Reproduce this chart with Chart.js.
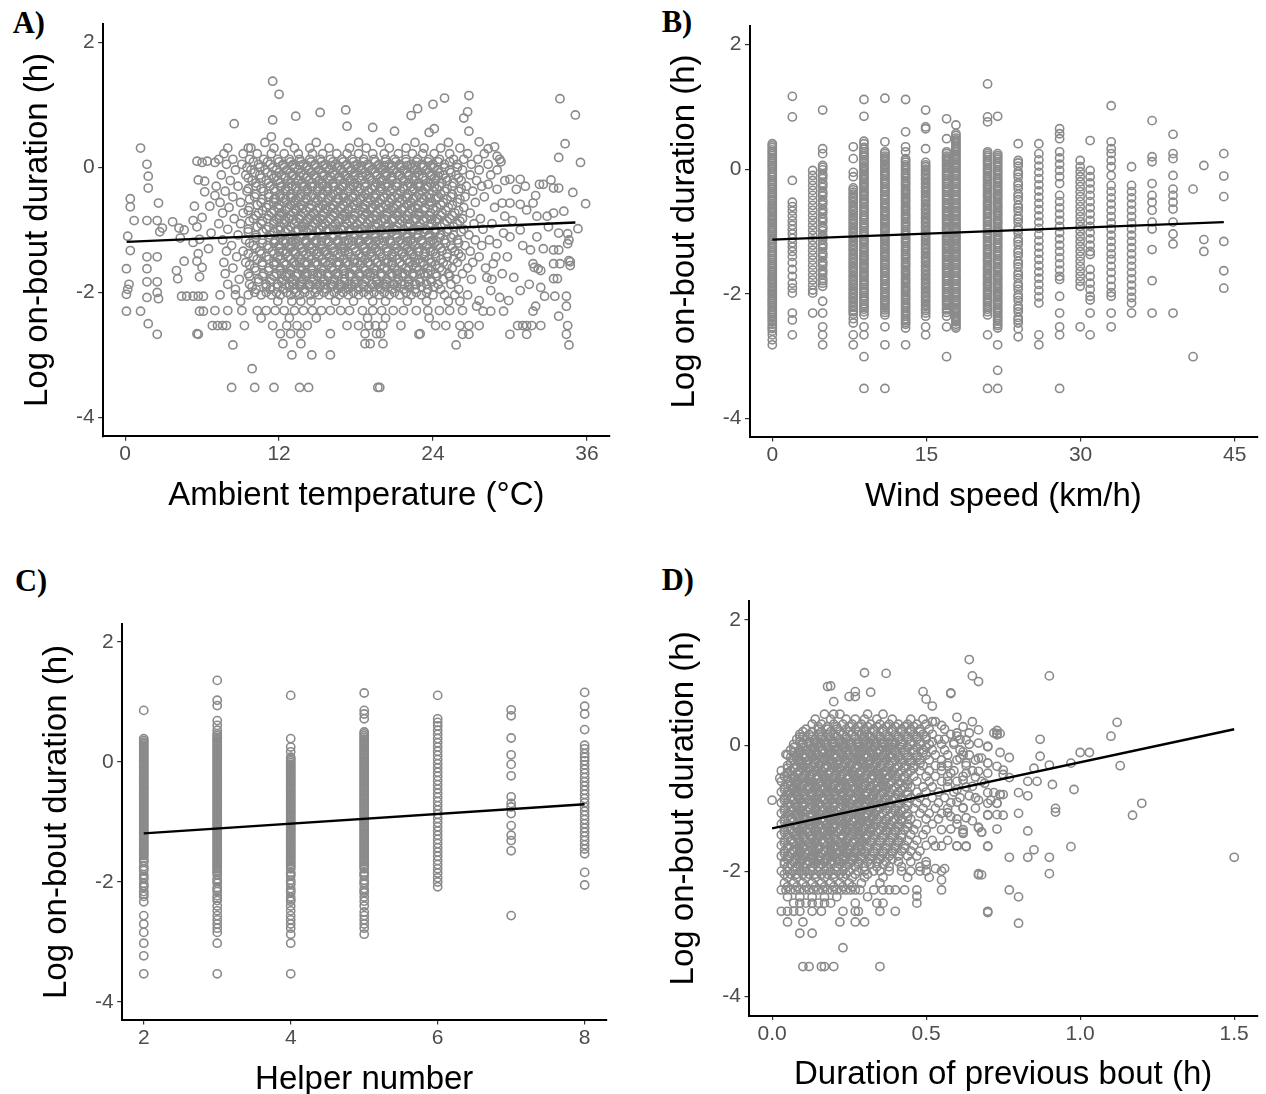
<!DOCTYPE html>
<html><head><meta charset="utf-8">
<script src="https://cdn.jsdelivr.net/npm/chart.js@4.4.1/dist/chart.umd.min.js"></script>
<style>
html,body{margin:0;padding:0;background:#fff;}
body{width:1266px;height:1094px;position:relative;overflow:hidden;}
canvas{position:absolute;}
.lab{position:absolute;font-family:"Liberation Serif","Times New Roman",serif;font-weight:bold;font-size:30.5px;line-height:1;color:#000;white-space:nowrap;}
</style></head><body>
<div class="lab" style="left:12.7px;top:8.3px">A)</div>
<div class="lab" style="left:661.7px;top:6.6px">B)</div>
<div class="lab" style="left:15px;top:566px">C)</div>
<div class="lab" style="left:661.7px;top:565.2px">D)</div>
<canvas id="cA"></canvas><canvas id="cB"></canvas><canvas id="cC"></canvas><canvas id="cD"></canvas>
<script>
// ---------- tick labels ----------
const logTicks = [-4, -2, 0, 2];
const tempTicks = [0, 12, 24, 36];
const windTicks = [0, 15, 30, 45];
const helperTicks = [2, 4, 6, 8];
const prevTicks = [0, 0.5, 1, 1.5];

// ---------- fitted lines ----------
const tempFit = [[0.12, -1.19], [35.1, -0.88]];
const windFit = [[0, -1.13], [43.94, -0.85]];
const helperFit = [[2, -1.19], [8, -0.705]];
const prevFit = [[0, -1.32], [1.5, 0.26]];

// ---------- A: ambient temperature ----------
const tempPairs = [
[11.5,1.38],[12.0,1.17],[8.5,0.70],[11.5,0.76],[13.3,0.82],[15.2,0.88],[11.4,0.49],[9.6,0.31],
[1.2,0.31],[1.7,0.05],[1.8,-0.14],[1.8,-0.33],[2.6,-0.57],[0.4,-0.5],[0.4,-0.63],[0.7,-0.85],[1.7,-0.85],[2.5,-0.85],
[2.9,-0.97],[2.7,-1.03],[0.2,-1.1],[0.4,-1.33],[1.7,-1.43],[1.7,-1.62],[1.7,-1.83],[2.5,-1.43],[2.5,-1.83],[2.5,-2.0],
[2.6,-2.1],[1.7,-2.08],[0.1,-1.62],[0.3,-1.87],[0.2,-1.95],[0.1,-2.03],[0.1,-2.3],[1.2,-2.3],[1.8,-2.5],[2.5,-2.67],
[4.4,-2.06],[4.0,-1.65],[4.1,-1.78],[4.2,-0.97],[4.3,-1.13],[3.7,-0.87],[4.6,-1.0],[4.6,-1.5],[5.4,-0.62],[5.3,-0.85],
[5.6,-0.95],[6.0,-0.8],[5.6,0.1],[6.0,0.08],[6.4,0.1],[5.7,-0.2],[6.2,-0.22],[6.2,-0.39],[7.0,0.08],[7.3,0.13],
[7.0,-0.45],[6.6,-0.62],[5.3,-1.2],[5.8,-1.15],[5.7,-1.38],[5.6,-1.5],[6.0,-1.6],[5.8,-1.75],[6.5,-1.3],[6.7,-1.05],
[4.8,-2.06],[5.3,-2.06],[5.7,-2.06],[6.1,-2.06],[5.8,-2.3],[6.1,-2.3],[5.7,-2.67],[5.6,-2.66],[6.8,-2.53],[7.2,-2.53],
[7.6,-2.53],[7.9,-2.53],[8.4,-2.84],[9.9,-3.22],[8.3,-3.52],[10.1,-3.52],[11.6,-3.52],[13.6,-3.52],[14.3,-3.52],
[19.7,-3.52],[19.85,-3.52],[13.0,-3.0],[14.55,-3.0],[16.0,-3.0],[12.3,-2.82],[13.7,-2.82],[12.1,-2.66],[12.9,-2.66],
[13.7,-2.66],[16.0,-2.66],[18.7,-2.82],[19.1,-2.82],[20.1,-2.82],[18.7,-2.66],[19.6,-2.66],[19.9,-2.66],[23.0,-2.66],
[26.8,1.15],[24.9,1.11],[24.0,1.01],[22.8,0.94],[22.3,0.83],[26.7,0.89],[26.4,0.79],[26.8,0.58],[27.6,0.41],
[33.9,1.1],[35.1,0.84],[34.3,0.38],[33.8,0.16],[35.5,0.08],[35.9,-0.58],[17.2,0.92],[17.3,0.66],[19.3,0.64],[21.0,0.58],
[24.1,0.62],[23.7,0.56],[28.3,0.3],[28.8,0.33],[29.0,0.18],[29.3,0.09],[30.0,-0.19],[30.8,-0.19],[32.3,-0.27],
[32.6,-0.27],[33.4,-0.33],[33.8,-0.33],[35.3,-0.98],[34.5,-1.06],[34.6,-1.16],[34.5,-1.22],[33.8,-1.32],[34.7,-1.51],
[34.7,-1.57],[32.2,-1.62],[31.9,-1.6],[33.4,-1.78],[33.7,-1.78],[31.5,-1.87],[32.4,-1.92],[32.7,-2.06],[33.5,-2.06],
[34.4,-2.06],[34.4,-2.22],[33.8,-2.38],[34.5,-2.53],[34.4,-2.67],[34.6,-2.84],[30.6,-2.53],[31.0,-2.53],[31.3,-2.53],
[31.7,-2.53],[32.4,-2.53],[30.0,-2.67],[31.3,-2.67],[31.8,-2.3],[32.0,-2.22],[29.5,-2.3],[28.5,-2.3],[27.9,-2.3],
[27.4,-2.22],[29.9,-2.13],[27.6,-2.13],[27.6,-2.53],[26.8,-2.53],[26.1,-2.53],[26.3,-2.67],[26.8,-2.67],[25.8,-2.84],
[22.9,-2.67],[28.3,-0.27],[29.0,-0.35],[29.4,-0.57],[30.0,-0.57],[29.6,-0.78],[30.5,-0.35],[30.8,-0.59],[31.3,-0.68],
[31.8,-0.57],[32.1,-0.78],[32.9,-0.78],[33.4,-0.73],[33.0,-0.95],[33.8,-1.05],[33.4,-1.32],[32.1,-1.11],[31.6,-1.32],
[31.8,-1.54],[32.4,-1.65],[33.4,-1.54],[33.9,-1.54],[34.6,-1.49],[30.8,-1.0],[30.0,-1.11],[29.5,-1.05],[29.0,-1.22],
[29.8,-1.43],[28.7,-1.54],[29.4,-1.7],[30.3,-1.76],[30.8,-1.97],[29.2,-2.08],[28.5,-1.97],[28.2,-1.76],
[31.2,-0.3],[32.0,-0.45],[30.2,-0.85],[31.0,-1.25],[32.6,-1.3],[33.2,-0.2],[34.9,-0.4],[34.2,-0.7]
];
const tempRows = [
[0.40,[10.9,12.7,14.9,18.2,19.9,22.6,25.2]],
[0.31,[8.0,9.8,11.6,13.2,14.4,15.9,17.5,18.8,20.6,21.9,23.3,24.6,26.1]],
[0.22,[7.7,9.2,10.3,11.4,12.4,13.5,14.6,15.4,16.5,17.3,18.2,19.3,20.2,21.3,22.4,23.2,24.1,25.3,26.7,28.0]],
[0.13,[8.4,9.7,10.8,11.9,12.8,13.6,14.4,15.2,16.0,16.9,17.7,18.6,19.4,20.3,21.0,21.9,22.8,23.7,24.5,25.6,26.4,27.5,29.2]],
[0.05,[7.9,9.1,10.4,11.3,12.3,13.1,13.9,14.8,15.6,16.4,17.3,18.1,18.9,19.8,20.6,21.4,22.3,23.1,24.0,24.9,25.9,27.0,28.3]],
[-0.04,[8.6,9.8,10.9,11.8,12.6,13.5,14.3,15.1,15.9,16.8,17.6,18.4,19.2,20.0,20.9,21.7,22.6,23.5,24.4,25.3,26.3,27.6,29.0]],
[-0.12,[7.5,9.4,10.5,11.4,12.2,13.0,13.9,14.7,15.5,16.3,17.1,17.9,18.8,19.6,20.4,21.3,22.1,22.9,23.8,24.8,25.8,26.9,28.5]],
[-0.21,[8.2,9.9,11.0,11.9,12.7,13.5,14.3,15.1,15.9,16.7,17.5,18.4,19.2,20.0,20.8,21.7,22.5,23.4,24.2,25.1,26.2,27.4,29.6]],
[-0.30,[7.1,8.8,10.2,11.3,12.2,13.0,13.8,14.6,15.4,16.2,17.0,17.8,18.7,19.5,20.3,21.1,22.0,22.8,23.6,24.5,25.5,26.6,27.8]],
[-0.38,[7.8,9.5,10.8,11.7,12.5,13.4,14.2,15.0,15.8,16.6,17.4,18.2,19.0,19.9,20.7,21.5,22.4,23.2,24.0,24.9,26.0,27.1]],
[-0.47,[8.4,10.1,11.2,12.1,12.9,13.7,14.5,15.3,16.1,17.0,17.8,18.6,19.4,20.2,21.0,21.9,22.7,23.5,24.4,25.4,26.5,28.0]],
[-0.56,[7.4,9.0,10.6,11.6,12.4,13.2,14.0,14.9,15.7,16.5,17.3,18.1,18.9,19.8,20.6,21.4,22.3,23.1,23.9,24.8,25.9,27.3]],
[-0.64,[8.1,9.7,11.0,11.9,12.8,13.6,14.4,15.2,16.0,16.8,17.7,18.5,19.3,20.1,20.9,21.8,22.6,23.4,24.3,25.2,26.4,28.8]],
[-0.73,[7.6,9.2,10.4,11.4,12.2,13.1,13.9,14.7,15.5,16.3,17.1,17.9,18.8,19.6,20.4,21.2,22.1,22.9,23.8,24.7,25.7,26.9]],
[-0.82,[8.5,10.0,11.1,12.0,12.8,13.6,14.4,15.2,16.0,16.9,17.7,18.5,19.3,20.2,21.0,21.8,22.7,23.5,24.3,25.3,26.3,27.7]],
[-0.90,[7.3,9.0,10.6,11.6,12.4,13.2,14.0,14.8,15.6,16.4,17.3,18.1,18.9,19.7,20.5,21.4,22.2,23.0,23.9,24.9,25.9,27.2,28.6]],
[-0.99,[8.0,9.6,11.0,11.9,12.7,13.5,14.3,15.1,15.9,16.8,17.6,18.4,19.2,20.0,20.9,21.7,22.5,23.4,24.2,25.2,26.4,27.9]],
[-1.08,[8.8,10.2,11.3,12.2,13.0,13.8,14.6,15.4,16.2,17.0,17.9,18.7,19.5,20.3,21.2,22.0,22.8,23.7,24.6,25.6,26.8]],
[-1.16,[7.6,9.4,10.7,11.7,12.5,13.3,14.1,14.9,15.7,16.6,17.4,18.2,19.0,19.8,20.6,21.5,22.3,23.1,24.0,24.9,25.9,27.3,28.4]],
[-1.25,[8.3,10.0,11.1,12.0,12.8,13.6,14.4,15.3,16.1,16.9,17.7,18.5,19.3,20.1,21.0,21.8,22.6,23.5,24.4,25.4,26.5,27.8]],
[-1.34,[7.9,9.2,10.5,11.5,12.3,13.1,13.9,14.7,15.5,16.3,17.1,18.0,18.8,19.6,20.4,21.3,22.1,22.9,23.8,24.7,25.7,26.9]],
[-1.43,[8.7,10.0,11.0,11.9,12.7,13.5,14.3,15.1,15.9,16.7,17.6,18.4,19.2,20.0,20.8,21.7,22.5,23.3,24.2,25.1,26.2,27.6,28.9]],
[-1.52,[7.7,9.4,10.7,11.6,12.4,13.2,14.0,14.8,15.6,16.5,17.3,18.1,18.9,19.7,20.5,21.4,22.2,23.0,23.9,24.8,25.9,27.1]],
[-1.61,[8.4,10.1,11.2,12.1,12.9,13.7,14.5,15.3,16.1,17.0,17.8,18.6,19.4,20.2,21.0,21.9,22.7,23.6,24.5,25.5,26.7,28.1]],
[-1.70,[7.8,9.6,10.8,11.8,12.6,13.4,14.2,15.0,15.8,16.6,17.5,18.3,19.1,19.9,20.8,21.6,22.4,23.3,24.2,25.2,26.3]],
[-1.79,[8.9,10.4,11.4,12.3,13.1,13.9,14.7,15.5,16.3,17.1,18.0,18.8,19.6,20.4,21.3,22.1,22.9,23.8,24.8,25.8,27.0,28.6]],
[-1.87,[8.0,9.7,11.0,11.9,12.8,13.6,14.4,15.2,16.0,16.8,17.6,18.5,19.3,20.1,20.9,21.8,22.6,23.5,24.4,25.4]],
[-1.95,[8.6,10.2,11.3,12.3,13.2,14.0,14.9,15.7,16.6,17.4,18.2,19.0,19.9,20.8,21.7,22.6,23.6,24.6,26.0]],
[-2.04,[7.4,8.6,9.6,10.6,11.4,12.1,12.9,13.6,14.4,15.1,15.9,16.7,17.4,18.2,19.0,19.8,20.6,21.4,22.3,23.1,24.0,24.9,25.7,26.7]],
[-2.14,[9.0,11.9,13.0,13.7,14.5,16.4,17.8,19.3,20.3,22.0,23.5,25.2,26.1]],
[-2.29,[7.0,8.0,9.1,10.3,11.0,11.7,12.4,13.2,13.9,14.6,15.3,16.0,16.8,17.5,18.5,19.3,20.0,20.9,21.7,22.7,23.6,24.5,25.3,26.3]],
[-2.41,[10.6,12.8,14.9,18.9,20.3,23.7]],
[-2.53,[9.3,11.5,12.6,13.4,14.2,17.3,18.2,19.0,19.5,20.1,21.5,24.2,25.0]]
];
const tempCoreRows = [
[0.09,[10.0,11.1,12.0,12.9,13.7,14.5,15.3,16.2,17.0,17.8,18.6,19.5,20.3,21.1,21.9,22.7,23.6,24.4,25.3]],
[0.00,[9.5,10.5,11.5,12.4,13.2,14.1,14.9,15.7,16.5,17.4,18.2,19.0,19.9,20.7,21.5,22.4,23.2,24.1,24.9,25.9]],
[-0.08,[10.1,11.1,12.0,12.9,13.7,14.5,15.4,16.2,17.0,17.9,18.7,19.5,20.3,21.2,22.0,22.8,23.7,24.5,25.4]],
[-0.17,[9.6,10.6,11.6,12.5,13.3,14.1,14.9,15.8,16.6,17.4,18.2,19.1,19.9,20.7,21.6,22.4,23.2,24.1,25.0,26.0]],
[-0.25,[10.2,11.2,12.1,12.9,13.8,14.6,15.4,16.2,17.1,17.9,18.7,19.6,20.4,21.2,22.1,22.9,23.8,24.7,25.6]],
[-0.34,[9.6,10.6,11.6,12.5,13.3,14.2,15.0,15.8,16.7,17.5,18.3,19.2,20.0,20.8,21.7,22.5,23.4,24.3,25.1,26.2]],
[-0.43,[10.2,11.2,12.1,12.9,13.7,14.6,15.4,16.2,17.0,17.9,18.7,19.5,20.4,21.2,22.0,22.9,23.7,24.6,25.5]],
[-0.51,[9.7,10.7,11.6,12.5,13.3,14.1,15.0,15.8,16.6,17.4,18.3,19.1,19.9,20.8,21.6,22.4,23.3,24.2,25.1,26.1]],
[-0.60,[10.3,11.2,12.0,12.9,13.7,14.5,15.4,16.2,17.0,17.8,18.7,19.5,20.3,21.2,22.0,22.8,23.7,24.6,25.5]],
[-0.69,[9.6,10.7,11.6,12.5,13.3,14.1,14.9,15.8,16.6,17.4,18.3,19.1,19.9,20.8,21.6,22.4,23.3,24.2,25.0,26.0]],
[-0.77,[10.2,11.2,12.1,12.9,13.7,14.5,15.4,16.2,17.0,17.9,18.7,19.5,20.4,21.2,22.0,22.9,23.7,24.6,25.5]],
[-0.86,[9.7,10.7,11.6,12.5,13.3,14.1,15.0,15.8,16.6,17.5,18.3,19.1,20.0,20.8,21.6,22.5,23.3,24.2,25.1,26.1]],
[-0.95,[10.3,11.2,12.1,12.9,13.8,14.6,15.4,16.2,17.1,17.9,18.7,19.6,20.4,21.2,22.1,22.9,23.8,24.6,25.6]],
[-1.03,[9.6,10.7,11.6,12.5,13.3,14.2,15.0,15.8,16.6,17.5,18.3,19.1,19.9,20.8,21.6,22.4,23.3,24.2,25.1,26.2]],
[-1.12,[10.2,11.2,12.1,12.9,13.7,14.5,15.4,16.2,17.0,17.8,18.7,19.5,20.3,21.2,22.0,22.8,23.7,24.5,25.4]],
[-1.21,[9.7,10.7,11.6,12.5,13.3,14.1,14.9,15.8,16.6,17.4,18.2,19.1,19.9,20.7,21.6,22.4,23.2,24.1,25.0,26.0]],
[-1.29,[10.2,11.2,12.1,12.9,13.8,14.6,15.4,16.2,17.1,17.9,18.7,19.5,20.4,21.2,22.0,22.9,23.7,24.6,25.5]],
[-1.38,[9.6,10.6,11.6,12.5,13.3,14.1,14.9,15.8,16.6,17.4,18.3,19.1,19.9,20.8,21.6,22.4,23.3,24.2,25.1,26.0]],
[-1.47,[10.3,11.2,12.1,12.9,13.7,14.5,15.4,16.2,17.0,17.9,18.7,19.5,20.4,21.2,22.0,22.9,23.7,24.6,25.6]],
[-1.56,[9.7,10.7,11.6,12.5,13.3,14.1,15.0,15.8,16.6,17.4,18.3,19.1,19.9,20.8,21.6,22.4,23.3,24.2,25.1]],
[-1.65,[10.2,11.2,12.1,12.9,13.8,14.6,15.4,16.2,17.1,17.9,18.7,19.5,20.4,21.2,22.0,22.9,23.8,24.7]],
[-1.74,[9.7,10.7,11.6,12.5,13.3,14.1,15.0,15.8,16.6,17.5,18.3,19.1,20.0,20.8,21.6,22.5,23.4,24.3,25.3]],
[-1.83,[10.4,11.3,12.2,13.0,13.8,14.6,15.4,16.3,17.1,17.9,18.7,19.6,20.4,21.2,22.1,23.0,23.9]],
[-1.91,[9.9,11.0,11.9,12.8,13.6,14.4,15.2,16.1,16.9,17.7,18.6,19.4,20.3,21.2,22.1,23.1,24.1]],
[-2.00,[10.1,11.0,11.8,12.6,13.3,14.0,14.8,15.5,16.3,17.0,17.8,18.6,19.4,20.2,21.0,21.9,22.7,23.5]]
];
const tempCenterRows = [
[0.03,[12.3,13.0,13.6,14.2,14.8,15.4,16.1,16.6,17.2,17.9,18.4,19.0,19.7,20.2,20.8,21.5,22.0,22.6,23.3,23.8]],
[-0.14,[11.8,12.4,13.1,13.6,14.2,14.9,15.4,16.0,16.7,17.2,17.8,18.5,19.0,19.6,20.3,20.8,21.4,22.1,22.6,23.2,23.9,24.4]],
[-0.31,[12.1,12.7,13.3,14.0,14.5,15.1,15.8,16.3,16.9,17.6,18.1,18.7,19.4,19.9,20.5,21.2,21.7,22.3,23.0,23.5,24.1]],
[-0.49,[11.7,12.3,13.0,13.5,14.1,14.8,15.3,15.9,16.6,17.1,17.7,18.4,18.9,19.5,20.2,20.7,21.3,22.0,22.5,23.1,23.8,24.3]],
[-0.66,[12.0,12.6,13.3,13.8,14.4,15.1,15.6,16.2,16.9,17.4,18.0,18.7,19.2,19.8,20.5,21.0,21.6,22.3,22.8,23.4,24.0]],
[-0.83,[11.8,12.4,13.1,13.6,14.2,14.9,15.4,16.0,16.7,17.2,17.8,18.5,19.0,19.6,20.3,20.8,21.4,22.1,22.6,23.2,23.9,24.4]],
[-1.00,[12.1,12.7,13.4,13.9,14.5,15.2,15.7,16.3,17.0,17.5,18.1,18.8,19.3,19.9,20.6,21.1,21.7,22.4,22.9,23.5,24.1]],
[-1.18,[11.7,12.3,13.0,13.5,14.1,14.8,15.3,15.9,16.6,17.1,17.7,18.4,18.9,19.5,20.2,20.7,21.3,22.0,22.5,23.1,23.8,24.3]],
[-1.35,[12.0,12.6,13.3,13.8,14.4,15.1,15.6,16.2,16.9,17.4,18.0,18.7,19.2,19.8,20.5,21.0,21.6,22.3,22.8,23.4,24.0]],
[-1.52,[11.8,12.4,13.1,13.6,14.2,14.9,15.4,16.0,16.7,17.2,17.8,18.5,19.0,19.6,20.3,20.8,21.4,22.1,22.6,23.2,23.8]],
[-1.70,[12.2,12.8,13.5,14.0,14.6,15.3,15.8,16.4,17.1,17.6,18.2,18.9,19.4,20.0,20.7,21.2,21.8,22.5,23.0,23.6]],
[-1.87,[12.5,13.1,13.8,14.3,14.9,15.6,16.1,16.7,17.4,17.9,18.5,19.2,19.7,20.3,21.0,21.5,22.1,22.7]]
];

// ---------- B: wind speed (columns) ----------
const windX = [0,1.95,3.93,4.9,7.88,8.92,10.96,12.97,14.92,16.96,17.87,20.95,21.93,23.93,25.94,27.96,29.96,30.93,32.98,34.96,36.96,39.0,40.95,42.0,43.94];
const windY = [
[0.41,0.35,0.28,0.22,0.15,0.09,0.03,-0.04,-0.1,-0.17,-0.23,-0.29,-0.36,-0.42,-0.48,-0.55,-0.61,-0.67,-0.74,-0.8,-0.86,-0.93,-0.99,-1.05,-1.12,-1.18,-1.24,-1.31,-1.37,-1.43,-1.5,-1.56,-1.62,-1.69,-1.75,-1.81,-1.88,-1.94,-2.0,-2.07,-2.13,-2.19,-2.26,-2.32,-2.38,-2.45,-2.53,-2.6,-2.66,-2.74,-2.82],
[1.17,0.84,-0.18,-0.53,-0.6,-0.67,-0.75,-0.83,-0.9,-0.97,-1.04,-1.11,-1.18,-1.25,-1.32,-1.4,-1.5,-1.61,-1.72,-1.83,-1.91,-1.99,-2.31,-2.42,-2.66],
[-0.02,-0.1,-0.18,-0.26,-0.34,-0.42,-0.5,-0.58,-0.66,-0.74,-0.82,-0.9,-0.98,-1.06,-1.14,-1.22,-1.3,-1.38,-1.46,-1.54,-1.62,-1.7,-1.78,-1.86,-1.94,-1.99,-2.31],
[0.95,0.33,0.25,0.06,-0.01,-0.08,-0.15,-0.22,-0.29,-0.36,-0.43,-0.5,-0.57,-0.64,-0.71,-0.78,-0.85,-0.92,-0.99,-1.06,-1.13,-1.2,-1.27,-1.34,-1.41,-1.48,-1.55,-1.62,-1.69,-1.76,-1.83,-1.88,-2.12,-2.31,-2.53,-2.66,-2.82],
[0.36,0.17,-0.05,-0.12,-0.3,-0.37,-0.44,-0.51,-0.58,-0.65,-0.72,-0.79,-0.86,-0.93,-1.0,-1.07,-1.14,-1.21,-1.28,-1.35,-1.42,-1.49,-1.56,-1.63,-1.7,-1.77,-1.84,-1.91,-1.98,-2.05,-2.12,-2.19,-2.26,-2.33,-2.4,-2.47,-2.66,-2.82],
[1.12,0.85,0.45,0.41,0.35,0.28,0.22,0.15,0.09,0.02,-0.04,-0.11,-0.17,-0.24,-0.3,-0.37,-0.43,-0.5,-0.56,-0.63,-0.69,-0.76,-0.82,-0.89,-0.95,-1.02,-1.08,-1.15,-1.21,-1.28,-1.34,-1.41,-1.47,-1.54,-1.6,-1.67,-1.73,-1.8,-1.86,-1.93,-1.99,-2.06,-2.12,-2.19,-2.25,-2.34,-2.53,-2.66,-3.01,-3.52],
[1.14,0.44,0.28,0.21,0.15,0.08,0.02,-0.05,-0.11,-0.18,-0.24,-0.31,-0.37,-0.44,-0.5,-0.57,-0.63,-0.7,-0.76,-0.83,-0.89,-0.96,-1.02,-1.09,-1.15,-1.22,-1.28,-1.35,-1.41,-1.48,-1.54,-1.61,-1.67,-1.74,-1.8,-1.87,-1.93,-2.0,-2.06,-2.13,-2.19,-2.26,-2.34,-2.53,-2.82,-3.52],
[1.12,0.6,0.36,0.28,0.17,0.11,0.04,-0.02,-0.09,-0.15,-0.22,-0.28,-0.35,-0.41,-0.48,-0.54,-0.61,-0.67,-0.74,-0.8,-0.87,-0.93,-1.0,-1.06,-1.13,-1.19,-1.26,-1.32,-1.39,-1.45,-1.52,-1.58,-1.65,-1.71,-1.78,-1.84,-1.91,-1.97,-2.04,-2.1,-2.17,-2.23,-2.3,-2.36,-2.43,-2.49,-2.55,-2.82],
[0.95,0.68,0.65,0.33,0.11,0.04,-0.03,-0.1,-0.17,-0.24,-0.31,-0.38,-0.45,-0.52,-0.59,-0.66,-0.73,-0.8,-0.87,-0.94,-1.01,-1.08,-1.15,-1.22,-1.29,-1.36,-1.43,-1.5,-1.57,-1.64,-1.71,-1.78,-1.85,-1.92,-1.99,-2.06,-2.13,-2.2,-2.27,-2.36,-2.53,-2.66],
[0.81,0.49,0.28,0.21,0.15,0.08,0.02,-0.05,-0.11,-0.18,-0.24,-0.31,-0.37,-0.44,-0.5,-0.57,-0.63,-0.7,-0.76,-0.83,-0.89,-0.96,-1.02,-1.09,-1.15,-1.22,-1.28,-1.35,-1.41,-1.48,-1.54,-1.61,-1.67,-1.74,-1.8,-1.87,-1.93,-2.0,-2.06,-2.13,-2.19,-2.26,-2.36,-2.53,-3.01],
[0.71,0.57,0.5,0.44,0.37,0.31,0.24,0.18,0.11,0.05,-0.02,-0.08,-0.15,-0.21,-0.28,-0.34,-0.41,-0.47,-0.54,-0.6,-0.67,-0.73,-0.8,-0.86,-0.93,-0.99,-1.06,-1.12,-1.19,-1.25,-1.32,-1.38,-1.45,-1.51,-1.58,-1.64,-1.71,-1.77,-1.84,-1.9,-1.97,-2.03,-2.1,-2.16,-2.23,-2.29,-2.36,-2.42,-2.49,-2.55],
[1.37,0.84,0.76,0.28,0.22,0.15,0.09,0.02,-0.04,-0.11,-0.17,-0.24,-0.3,-0.37,-0.43,-0.5,-0.56,-0.63,-0.69,-0.76,-0.82,-0.89,-0.95,-1.02,-1.08,-1.15,-1.21,-1.28,-1.34,-1.41,-1.47,-1.54,-1.6,-1.67,-1.73,-1.8,-1.86,-1.93,-1.99,-2.06,-2.12,-2.19,-2.25,-2.34,-2.66,-3.52],
[0.85,0.25,0.19,0.12,0.06,-0.01,-0.07,-0.14,-0.2,-0.27,-0.33,-0.4,-0.46,-0.53,-0.59,-0.66,-0.72,-0.79,-0.85,-0.92,-0.98,-1.05,-1.11,-1.18,-1.24,-1.31,-1.37,-1.44,-1.5,-1.57,-1.63,-1.7,-1.76,-1.83,-1.89,-1.96,-2.02,-2.09,-2.15,-2.22,-2.28,-2.35,-2.41,-2.48,-2.55,-2.82,-3.23,-3.52],
[0.41,0.14,0.05,-0.04,-0.13,-0.22,-0.31,-0.4,-0.49,-0.58,-0.67,-0.76,-0.85,-0.94,-1.03,-1.12,-1.21,-1.3,-1.39,-1.48,-1.57,-1.66,-1.75,-1.84,-1.93,-2.02,-2.11,-2.2,-2.29,-2.38,-2.47,-2.56,-2.69],
[0.41,0.25,0.15,0.05,-0.05,-0.15,-0.25,-0.35,-0.45,-0.55,-0.65,-0.75,-0.85,-0.95,-1.05,-1.15,-1.25,-1.35,-1.45,-1.55,-1.65,-1.75,-1.85,-1.95,-2.05,-2.15,-2.66,-2.82],
[0.65,0.57,0.49,0.28,0.18,0.08,-0.02,-0.12,-0.23,-0.42,-0.52,-0.62,-0.72,-0.82,-0.92,-1.02,-1.12,-1.22,-1.32,-1.42,-1.52,-1.62,-1.72,-1.77,-2.04,-2.31,-2.53,-2.66,-3.52],
[0.14,0.04,-0.04,-0.12,-0.2,-0.28,-0.36,-0.44,-0.52,-0.6,-0.68,-0.76,-0.84,-0.92,-1.0,-1.08,-1.16,-1.24,-1.32,-1.4,-1.48,-1.56,-1.64,-1.72,-1.8,-1.88,-2.53],
[0.46,-0.02,-0.12,-0.22,-0.32,-0.42,-0.52,-0.62,-0.72,-0.82,-0.92,-1.02,-1.12,-1.22,-1.32,-1.37,-1.61,-1.72,-1.83,-1.93,-2.04,-2.1,-2.31,-2.66],
[1.02,0.44,0.33,0.25,0.14,0.04,-0.1,-0.26,-0.36,-0.46,-0.56,-0.66,-0.76,-0.86,-0.96,-1.06,-1.16,-1.26,-1.36,-1.45,-1.56,-1.66,-1.77,-1.88,-1.98,-2.04,-2.31,-2.53],
[0.04,-0.26,-0.36,-0.46,-0.56,-0.66,-0.76,-0.86,-0.96,-1.06,-1.16,-1.26,-1.36,-1.46,-1.56,-1.66,-1.76,-1.86,-1.96,-2.06,-2.15,-2.31],
[0.78,0.2,0.12,-0.23,-0.42,-0.53,-0.66,-0.85,-0.96,-1.29,-1.79,-2.31],
[0.56,0.25,0.17,-0.1,-0.32,-0.42,-0.53,-0.64,-0.85,-1.04,-1.2,-2.31],
[-0.32,-3.01],
[0.06,-1.13,-1.32],
[0.25,-0.11,-0.44,-1.16,-1.63,-1.91]
];
const windYExtra = [
[0.38,0.31,0.25,0.18,0.12,0.06,0.0,-0.07,-0.13,-0.2,-0.26,-0.32,-0.39,-0.45,-0.51,-0.58,-0.64,-0.7,-0.77,-0.83,-0.89,-0.96,-1.02,-1.08,-1.15,-1.21,-1.27,-1.34,-1.4,-1.46,-1.53,-1.59,-1.65,-1.72,-1.78,-1.84,-1.91,-1.97,-2.03,-2.1,-2.16,-2.22,-2.29,-2.35,-2.42,-2.49,-2.56],
[],[],
[0.03,-0.11,-0.25,-0.39,-0.53,-0.67,-0.81,-0.95,-1.09,-1.23,-1.37,-1.51,-1.65,-1.79],
[-0.33,-0.4,-0.47,-0.54,-0.61,-0.68,-0.75,-0.82,-0.89,-0.96,-1.03,-1.1,-1.17,-1.24,-1.31,-1.38,-1.45,-1.52,-1.59,-1.66,-1.73,-1.8,-1.87,-1.94,-2.01,-2.08,-2.15,-2.22,-2.29],
[0.32,0.25,0.19,0.12,0.05,-0.01,-0.08,-0.14,-0.21,-0.27,-0.34,-0.4,-0.47,-0.53,-0.6,-0.66,-0.73,-0.79,-0.86,-0.92,-0.99,-1.05,-1.12,-1.18,-1.25,-1.31,-1.38,-1.44,-1.51,-1.57,-1.64,-1.7,-1.77,-1.83,-1.9,-1.96,-2.03,-2.09,-2.16,-2.22,-2.29],
[0.25,0.18,0.12,0.05,-0.02,-0.08,-0.15,-0.21,-0.28,-0.34,-0.41,-0.47,-0.54,-0.6,-0.67,-0.73,-0.8,-0.86,-0.93,-0.99,-1.06,-1.12,-1.19,-1.25,-1.32,-1.38,-1.45,-1.51,-1.58,-1.64,-1.71,-1.77,-1.84,-1.9,-1.97,-2.03,-2.1,-2.16,-2.23,-2.3],
[0.14,0.07,0.01,-0.06,-0.12,-0.19,-0.25,-0.32,-0.38,-0.45,-0.51,-0.58,-0.64,-0.71,-0.77,-0.84,-0.9,-0.97,-1.03,-1.1,-1.16,-1.23,-1.29,-1.36,-1.42,-1.49,-1.55,-1.62,-1.68,-1.75,-1.81,-1.88,-1.94,-2.01,-2.07,-2.14,-2.2,-2.27,-2.33,-2.4,-2.46],
[0.07,0.0,-0.07,-0.14,-0.21,-0.28,-0.35,-0.42,-0.49,-0.56,-0.63,-0.7,-0.77,-0.84,-0.91,-0.98,-1.05,-1.12,-1.19,-1.26,-1.33,-1.4,-1.47,-1.54,-1.61,-1.68,-1.75,-1.82,-1.89,-1.96,-2.03,-2.1,-2.17,-2.24,-2.31],
[0.25,0.18,0.12,0.05,-0.02,-0.08,-0.15,-0.21,-0.28,-0.34,-0.41,-0.47,-0.54,-0.6,-0.67,-0.73,-0.8,-0.86,-0.93,-0.99,-1.06,-1.12,-1.19,-1.25,-1.32,-1.38,-1.45,-1.51,-1.58,-1.64,-1.71,-1.77,-1.84,-1.9,-1.97,-2.03,-2.1,-2.16,-2.23,-2.3],
[0.54,0.47,0.41,0.34,0.28,0.21,0.15,0.08,0.02,-0.05,-0.11,-0.18,-0.24,-0.31,-0.37,-0.44,-0.5,-0.57,-0.63,-0.7,-0.76,-0.83,-0.89,-0.96,-1.02,-1.09,-1.15,-1.22,-1.28,-1.35,-1.41,-1.48,-1.54,-1.61,-1.67,-1.74,-1.8,-1.87,-1.93,-2.0,-2.06,-2.13,-2.19,-2.26,-2.32,-2.39,-2.45,-2.52],
[0.25,0.19,0.12,0.06,-0.01,-0.07,-0.14,-0.2,-0.27,-0.33,-0.4,-0.46,-0.53,-0.59,-0.66,-0.72,-0.79,-0.85,-0.92,-0.98,-1.05,-1.11,-1.18,-1.24,-1.31,-1.37,-1.44,-1.5,-1.57,-1.63,-1.7,-1.76,-1.83,-1.89,-1.96,-2.02,-2.09,-2.15,-2.22,-2.29],
[0.22,0.16,0.09,0.03,-0.04,-0.1,-0.17,-0.23,-0.3,-0.36,-0.43,-0.49,-0.56,-0.62,-0.69,-0.75,-0.82,-0.88,-0.95,-1.01,-1.08,-1.14,-1.21,-1.27,-1.34,-1.4,-1.47,-1.53,-1.6,-1.66,-1.73,-1.79,-1.86,-1.92,-1.99,-2.05,-2.12,-2.18,-2.25,-2.31,-2.38,-2.44,-2.51],
[0.1,-0.08,-0.26,-0.44,-0.62,-0.8,-0.98,-1.16,-1.34,-1.52,-1.7,-1.88,-2.06,-2.24,-2.42],
[],[],[],[],[],[],[],[],[],[],[]
];

// ---------- C: helper number (columns) ----------
const helperX = [2,3,4,5,6,7,8];
const helperY = [
[0.86,0.39,0.33,0.27,0.21,0.15,0.09,0.03,-0.03,-0.09,-0.15,-0.21,-0.27,-0.33,-0.39,-0.45,-0.51,-0.57,-0.63,-0.69,-0.75,-0.81,-0.87,-0.93,-0.99,-1.05,-1.11,-1.17,-1.23,-1.29,-1.35,-1.41,-1.47,-1.53,-1.6,-1.67,-1.74,-1.81,-1.88,-1.95,-2.02,-2.09,-2.16,-2.24,-2.33,-2.56,-2.7,-2.84,-3.02,-3.23,-3.53],
[1.36,1.03,0.94,0.69,0.61,0.53,0.47,0.41,0.35,0.29,0.23,0.17,0.11,0.05,-0.01,-0.07,-0.13,-0.19,-0.25,-0.31,-0.37,-0.43,-0.49,-0.55,-0.61,-0.67,-0.73,-0.79,-0.85,-0.91,-0.97,-1.03,-1.09,-1.15,-1.21,-1.27,-1.33,-1.39,-1.45,-1.51,-1.57,-1.63,-1.69,-1.75,-1.81,-1.88,-1.95,-2.02,-2.09,-2.16,-2.23,-2.31,-2.4,-2.48,-2.56,-2.63,-2.7,-2.77,-2.84,-3.02,-3.53],
[1.11,0.39,0.25,0.17,0.08,0.02,-0.04,-0.1,-0.16,-0.22,-0.28,-0.34,-0.4,-0.46,-0.52,-0.58,-0.64,-0.7,-0.76,-0.82,-0.88,-0.94,-1.0,-1.06,-1.12,-1.18,-1.24,-1.3,-1.36,-1.42,-1.48,-1.54,-1.6,-1.66,-1.72,-1.78,-1.84,-1.9,-1.97,-2.04,-2.11,-2.18,-2.25,-2.32,-2.4,-2.48,-2.56,-2.63,-2.7,-2.77,-2.87,-3.02,-3.53],
[1.15,0.86,0.8,0.72,0.5,0.44,0.38,0.32,0.26,0.2,0.14,0.08,0.02,-0.04,-0.1,-0.16,-0.22,-0.28,-0.34,-0.4,-0.46,-0.52,-0.58,-0.64,-0.7,-0.76,-0.82,-0.88,-0.94,-1.0,-1.06,-1.12,-1.18,-1.24,-1.3,-1.36,-1.42,-1.48,-1.54,-1.6,-1.66,-1.72,-1.78,-1.84,-1.9,-1.97,-2.04,-2.11,-2.18,-2.25,-2.32,-2.4,-2.5,-2.56,-2.63,-2.7,-2.77,-2.87],
[1.11,0.72,0.66,0.6,0.53,0.46,0.39,0.32,0.25,0.18,0.11,0.04,-0.03,-0.1,-0.17,-0.24,-0.31,-0.38,-0.45,-0.52,-0.59,-0.66,-0.73,-0.8,-0.87,-0.94,-1.01,-1.08,-1.15,-1.22,-1.29,-1.36,-1.43,-1.5,-1.57,-1.64,-1.71,-1.78,-1.85,-1.93,-2.0,-2.08],
[0.87,0.77,0.4,0.12,-0.04,-0.23,-0.58,-0.69,-0.75,-0.86,-1.06,-1.22,-1.31,-1.48,-2.56],
[1.16,0.93,0.8,0.54,0.28,0.22,0.14,0.08,0.02,-0.05,-0.12,-0.19,-0.26,-0.33,-0.4,-0.47,-0.54,-0.61,-0.68,-0.75,-0.82,-0.89,-0.96,-1.03,-1.1,-1.17,-1.24,-1.31,-1.38,-1.45,-1.53,-1.84,-2.05]
];
const helperYExtra = [
[0.36,0.3,0.24,0.18,0.12,0.06,0.0,-0.06,-0.12,-0.18,-0.24,-0.3,-0.36,-0.42,-0.48,-0.54,-0.6,-0.66,-0.72,-0.78,-0.84,-0.9,-0.96,-1.02,-1.08,-1.14,-1.2,-1.26,-1.32,-1.38,-1.44,-1.5,-1.56,-1.64,-1.78,-1.92,-2.06,-2.2],
[0.44,0.38,0.32,0.26,0.2,0.14,0.08,0.02,-0.04,-0.1,-0.16,-0.22,-0.28,-0.34,-0.4,-0.46,-0.52,-0.58,-0.64,-0.7,-0.76,-0.82,-0.88,-0.94,-1.0,-1.06,-1.12,-1.18,-1.24,-1.3,-1.36,-1.42,-1.48,-1.54,-1.6,-1.66,-1.72,-1.78,-1.84,-1.98,-2.12,-2.27],
[0.05,-0.01,-0.07,-0.13,-0.19,-0.25,-0.31,-0.37,-0.43,-0.49,-0.55,-0.61,-0.67,-0.73,-0.79,-0.85,-0.91,-0.97,-1.03,-1.09,-1.15,-1.21,-1.27,-1.33,-1.39,-1.45,-1.51,-1.57,-1.63,-1.69,-1.75,-1.87,-2.01,-2.15,-2.29],
[0.47,0.41,0.35,0.29,0.23,0.17,0.11,0.05,-0.01,-0.07,-0.13,-0.19,-0.25,-0.31,-0.37,-0.43,-0.49,-0.55,-0.61,-0.67,-0.73,-0.79,-0.85,-0.91,-0.97,-1.03,-1.09,-1.15,-1.21,-1.27,-1.33,-1.39,-1.45,-1.51,-1.57,-1.63,-1.69,-1.75,-1.87,-2.01,-2.15],
[],[],[]
];

// ---------- D: duration of previous bout ----------
const prevPairs = [
[0.30,1.16],[0.37,1.15],[0.18,0.94],[0.19,0.95],[0.2,0.7],[0.27,0.86],[0.27,0.78],[0.32,0.85],[0.25,0.78],
[0.49,0.86],[0.5,0.74],[0.52,0.63],[0.58,0.83],[0.6,0.45],[0.65,0.38],[0.67,0.25],[0.72,0.2],[0.09,0.14],
[0.045,-0.14],[0.025,-0.52],[0.05,-0.43],[0.06,-0.75],[0.0,-0.87],
[0.52,0.38],[0.53,0.38],[0.55,0.32],[0.6,0.2],[0.6,0.15],[0.63,0.09],[0.67,0.04],[0.7,-0.02],[0.73,0.17],[0.74,0.19],
[0.67,-0.2],[0.68,-0.2],[0.7,-0.28],[0.7,-0.44],[0.73,-0.33],[0.67,-0.41],[0.63,-0.28],[0.63,-0.44],[0.62,-0.55],
[0.57,-0.28],[0.58,-0.44],[0.57,-0.57],[0.55,-0.33],[0.65,-0.65],[0.7,-0.75],[0.72,-0.75],[0.74,-0.78],[0.67,-0.87],
[0.71,-0.87],[0.73,-0.92],[0.7,-1.1],[0.73,-1.1],[0.62,-0.99],[0.57,-1.07],[0.58,-1.13],[0.67,-1.3],[0.6,-1.6],
[0.63,-1.6],[0.62,-1.38],[0.68,-1.38],[0.7,-1.6],[0.58,-1.33],[0.55,-1.6],[0.53,-1.6],[0.5,-1.9],[0.55,-2.14],
[0.53,-1.96],[0.56,-1.96],[0.47,-2.4],[0.47,-2.51],[0.67,-2.06],[0.68,-2.06],
[0.64,1.37],[0.65,1.11],[0.67,1.02],[0.9,1.11],[0.58,0.84],[0.73,0.19],[0.73,0.24],[0.87,0.1],[1.12,0.37],[1.1,0.15],
[1.0,-0.11],[1.03,-0.11],[0.97,-0.28],[1.13,-0.32],[0.87,-0.17],[0.9,-0.31],[0.85,-0.36],[0.83,-0.57],[0.86,-0.57],
[0.91,-0.62],[0.98,-0.7],[0.8,-0.75],[0.83,-0.8],[0.77,-0.19],[0.74,-0.11],[0.7,-0.01],[0.7,-0.28],[0.75,-0.39],
[0.75,-0.46],[0.77,-0.51],[0.74,-0.78],[0.75,-0.78],[0.73,-0.92],[0.7,-0.92],[0.8,-1.08],[0.75,-1.11],[0.7,-1.11],
[1.2,-0.92],[1.17,-1.11],[0.92,-1.0],[0.92,-1.06],[0.83,-1.36],[0.73,-1.33],[0.68,-1.38],[0.67,-1.31],[0.62,-1.4],
[0.6,-1.6],[0.63,-1.61],[0.7,-1.61],[0.85,-1.66],[0.83,-1.78],[0.77,-1.78],[0.9,-1.78],[0.97,-1.61],[1.5,-1.78],
[0.67,-2.04],[0.9,-2.04],[0.77,-2.3],[0.8,-2.41],[0.7,-2.66],[0.8,-2.83],
[0.59,0.05],[0.62,-0.1],[0.61,-0.2],[0.64,-0.15],[0.66,-0.5],[0.6,-0.7],[0.64,-0.8],[0.6,-0.9],[0.66,-1.0],[0.63,-1.15],
[0.6,-1.25],[0.65,-1.2],[0.69,-0.6],[0.62,0.3],[0.56,0.1],[0.64,0.2]
];
const prevRows = [
[0.50,[0.17,0.2,0.22,0.31,0.36]],
[0.42,[0.14,0.19,0.24,0.27,0.3,0.34,0.39,0.45,0.49]],
[0.34,[0.13,0.16,0.2,0.23,0.26,0.29,0.32,0.35,0.38,0.41,0.44,0.47,0.5]],
[0.26,[0.11,0.15,0.18,0.21,0.24,0.27,0.3,0.33,0.36,0.39,0.42,0.45,0.48,0.51,0.56]],
[0.18,[0.09,0.12,0.15,0.18,0.2,0.23,0.26,0.29,0.31,0.34,0.37,0.4,0.43,0.46,0.49,0.52,0.58]],
[0.10,[0.08,0.11,0.14,0.16,0.19,0.22,0.24,0.27,0.3,0.33,0.35,0.38,0.41,0.44,0.47,0.5,0.54,0.61]],
[0.02,[0.07,0.1,0.12,0.15,0.17,0.2,0.23,0.25,0.28,0.31,0.34,0.36,0.39,0.42,0.45,0.48,0.51,0.55,0.59,0.64]],
[-0.07,[0.06,0.09,0.11,0.14,0.16,0.19,0.21,0.24,0.27,0.29,0.32,0.35,0.37,0.4,0.43,0.46,0.49,0.52,0.56,0.61]],
[-0.15,[0.05,0.08,0.1,0.13,0.15,0.18,0.2,0.23,0.25,0.28,0.3,0.33,0.36,0.38,0.41,0.44,0.47,0.5,0.53,0.57,0.62]],
[-0.23,[0.07,0.09,0.12,0.14,0.17,0.19,0.22,0.24,0.27,0.29,0.32,0.34,0.37,0.4,0.42,0.45,0.48,0.51,0.55,0.6,0.66]],
[-0.32,[0.05,0.08,0.1,0.13,0.15,0.18,0.2,0.23,0.25,0.28,0.3,0.33,0.35,0.38,0.41,0.43,0.46,0.49,0.53,0.57,0.63]],
[-0.40,[0.03,0.06,0.09,0.11,0.14,0.16,0.19,0.21,0.24,0.26,0.29,0.31,0.34,0.37,0.39,0.42,0.45,0.48,0.51,0.55,0.59,0.65]],
[-0.49,[0.04,0.07,0.1,0.12,0.15,0.17,0.2,0.22,0.25,0.27,0.3,0.33,0.35,0.38,0.4,0.43,0.46,0.5,0.53,0.57,0.62]],
[-0.57,[0.03,0.06,0.08,0.11,0.13,0.16,0.18,0.21,0.23,0.26,0.28,0.31,0.34,0.36,0.39,0.41,0.44,0.47,0.51,0.55,0.6,0.68]],
[-0.66,[0.04,0.07,0.09,0.12,0.14,0.17,0.19,0.22,0.24,0.27,0.29,0.32,0.35,0.37,0.4,0.43,0.45,0.49,0.52,0.57,0.63]],
[-0.74,[0.03,0.05,0.08,0.1,0.13,0.15,0.18,0.2,0.23,0.25,0.28,0.31,0.33,0.36,0.38,0.41,0.44,0.47,0.5,0.54,0.59]],
[-0.83,[0.04,0.06,0.09,0.11,0.14,0.16,0.19,0.21,0.24,0.27,0.29,0.32,0.34,0.37,0.4,0.42,0.45,0.48,0.52,0.56,0.61,0.66]],
[-0.91,[0.03,0.05,0.08,0.1,0.13,0.15,0.18,0.2,0.23,0.25,0.28,0.3,0.33,0.36,0.38,0.41,0.44,0.47,0.5,0.54,0.58]],
[-1.00,[0.04,0.07,0.09,0.12,0.14,0.17,0.19,0.22,0.24,0.27,0.29,0.32,0.35,0.37,0.4,0.43,0.46,0.49,0.53,0.57,0.62]],
[-1.08,[0.03,0.05,0.08,0.1,0.13,0.15,0.18,0.2,0.23,0.26,0.28,0.31,0.33,0.36,0.39,0.41,0.44,0.48,0.51,0.55]],
[-1.17,[0.04,0.06,0.09,0.11,0.14,0.16,0.19,0.22,0.24,0.27,0.29,0.32,0.34,0.37,0.4,0.42,0.45,0.5,0.54,0.6]],
[-1.25,[0.03,0.05,0.08,0.1,0.13,0.15,0.18,0.2,0.23,0.25,0.28,0.31,0.33,0.36,0.38,0.41,0.44,0.47,0.52]],
[-1.34,[0.04,0.06,0.09,0.11,0.14,0.17,0.19,0.22,0.24,0.27,0.29,0.32,0.35,0.37,0.4,0.43,0.46,0.5,0.55,0.62]],
[-1.42,[0.03,0.05,0.08,0.1,0.13,0.15,0.18,0.2,0.23,0.26,0.28,0.31,0.33,0.36,0.39,0.42,0.45,0.49]],
[-1.51,[0.04,0.06,0.09,0.11,0.14,0.16,0.19,0.21,0.24,0.27,0.29,0.32,0.35,0.38,0.41,0.44,0.47,0.52,0.57]],
[-1.59,[0.03,0.05,0.08,0.1,0.13,0.15,0.18,0.2,0.23,0.25,0.28,0.31,0.34,0.37,0.4,0.43,0.46,0.5]],
[-1.68,[0.04,0.07,0.09,0.12,0.14,0.17,0.19,0.22,0.24,0.27,0.3,0.33,0.36,0.39,0.42,0.45,0.48]],
[-1.76,[0.03,0.05,0.08,0.1,0.13,0.15,0.18,0.2,0.23,0.26,0.29,0.32,0.35,0.38,0.41,0.44,0.47]],
[-1.85,[0.04,0.07,0.09,0.12,0.14,0.17,0.19,0.22,0.25,0.28,0.31,0.34,0.37,0.41,0.45,0.5]],
[-1.93,[0.05,0.08,0.1,0.13,0.15,0.18,0.21,0.24,0.27,0.3,0.34,0.38,0.42,0.48]],
[-2.00,[0.03,0.05,0.07,0.09,0.11,0.13,0.15,0.17,0.19,0.21,0.23,0.25,0.28,0.3,0.33,0.35,0.38,0.42,0.45,0.48,0.5,0.55]],
[-2.10,[0.05,0.08,0.11,0.14,0.17,0.2,0.23,0.26,0.3,0.36,0.44,0.51]],
[-2.19,[0.04,0.07,0.1,0.13,0.16,0.19,0.22,0.25,0.29,0.35]],
[-2.30,[0.03,0.045,0.06,0.075,0.09,0.105,0.12,0.135,0.15,0.165,0.18,0.195,0.21,0.225,0.24,0.255,0.27,0.285,0.33,0.36,0.38,0.4,0.43,0.47,0.55]],
[-2.41,[0.05,0.09,0.13,0.17,0.21,0.31]],
[-2.51,[0.07,0.09,0.11,0.13,0.15,0.17,0.19,0.27,0.34,0.36]],
[-2.64,[0.03,0.05,0.07,0.09,0.13,0.16,0.23,0.27,0.28,0.35,0.4,0.7]],
[-2.81,[0.05,0.1,0.22,0.27,0.3]],
[-2.99,[0.09,0.13]],
[-3.22,[0.23]],
[-3.52,[0.1,0.12,0.16,0.17,0.2,0.35]]
];
const prevCoreRows = [
[0.30,[0.15,0.18,0.21,0.25,0.28,0.31,0.34,0.37,0.4,0.43,0.46]],
[0.22,[0.1,0.13,0.16,0.19,0.22,0.25,0.28,0.3,0.33,0.36,0.39,0.42,0.45,0.48]],
[0.14,[0.1,0.13,0.16,0.19,0.21,0.24,0.27,0.3,0.32,0.35,0.38,0.41,0.44,0.47,0.5]],
[0.06,[0.09,0.12,0.14,0.17,0.2,0.22,0.25,0.28,0.3,0.33,0.36,0.39,0.42,0.45,0.48,0.52]],
[-0.03,[0.07,0.1,0.13,0.15,0.18,0.2,0.23,0.26,0.28,0.31,0.33,0.36,0.39,0.42,0.44,0.47,0.5]],
[-0.11,[0.07,0.09,0.12,0.14,0.17,0.19,0.22,0.24,0.27,0.29,0.32,0.34,0.37,0.4,0.43,0.46,0.49]],
[-0.19,[0.06,0.08,0.11,0.13,0.16,0.18,0.21,0.23,0.26,0.28,0.31,0.33,0.36,0.39,0.41,0.44,0.47]],
[-0.28,[0.06,0.09,0.11,0.14,0.16,0.19,0.21,0.24,0.26,0.29,0.31,0.34,0.36,0.39,0.42,0.45,0.48]],
[-0.36,[0.05,0.07,0.1,0.12,0.15,0.17,0.2,0.22,0.25,0.27,0.3,0.32,0.35,0.38,0.4,0.43,0.46]],
[-0.45,[0.05,0.08,0.11,0.13,0.16,0.18,0.21,0.23,0.26,0.28,0.31,0.34,0.36,0.39,0.41,0.44]],
[-0.53,[0.05,0.07,0.1,0.12,0.15,0.17,0.2,0.22,0.25,0.27,0.3,0.32,0.35,0.37,0.4,0.43]],
[-0.62,[0.05,0.08,0.1,0.13,0.15,0.18,0.2,0.23,0.25,0.28,0.3,0.33,0.36,0.38,0.41,0.44]],
[-0.70,[0.04,0.07,0.09,0.12,0.14,0.17,0.19,0.22,0.24,0.27,0.29,0.32,0.34,0.37,0.39,0.42]],
[-0.79,[0.05,0.08,0.1,0.13,0.15,0.18,0.2,0.23,0.25,0.28,0.3,0.33,0.35,0.38,0.41,0.44]],
[-0.87,[0.04,0.07,0.09,0.12,0.14,0.17,0.19,0.22,0.24,0.26,0.29,0.31,0.34,0.37,0.39,0.42]],
[-0.96,[0.05,0.08,0.1,0.13,0.15,0.18,0.2,0.23,0.25,0.28,0.3,0.33,0.36,0.38,0.41,0.44]],
[-1.04,[0.04,0.06,0.09,0.11,0.14,0.16,0.19,0.21,0.24,0.27,0.29,0.32,0.34,0.37,0.4,0.42]],
[-1.13,[0.05,0.08,0.1,0.13,0.15,0.18,0.2,0.23,0.25,0.28,0.3,0.33,0.35,0.38,0.41,0.44]],
[-1.21,[0.04,0.07,0.09,0.12,0.14,0.17,0.19,0.22,0.24,0.26,0.29,0.31,0.34,0.37,0.39,0.42]],
[-1.30,[0.05,0.08,0.1,0.13,0.15,0.18,0.2,0.23,0.25,0.28,0.3,0.33,0.36,0.38,0.41,0.44]],
[-1.38,[0.04,0.07,0.09,0.12,0.14,0.17,0.19,0.21,0.24,0.27,0.29,0.32,0.34,0.37,0.4]],
[-1.47,[0.05,0.08,0.1,0.13,0.15,0.18,0.2,0.23,0.25,0.28,0.3,0.33,0.36,0.39,0.42]],
[-1.55,[0.04,0.07,0.09,0.12,0.14,0.17,0.19,0.22,0.24,0.26,0.29,0.32,0.35,0.38,0.41]],
[-1.64,[0.05,0.08,0.1,0.13,0.15,0.18,0.2,0.23,0.25,0.28,0.31,0.34,0.37,0.4,0.43]],
[-1.72,[0.04,0.06,0.09,0.11,0.14,0.16,0.19,0.21,0.24,0.27,0.3,0.33,0.36,0.39]],
[-1.81,[0.05,0.08,0.1,0.13,0.15,0.18,0.21,0.23,0.26,0.29,0.32,0.35,0.39]],
[-1.89,[0.04,0.06,0.09,0.11,0.14,0.16,0.19,0.22,0.25,0.28,0.32,0.36]],
[-2.05,[0.04,0.06,0.08,0.1,0.12,0.14,0.16,0.18,0.2,0.22,0.24,0.27,0.31]],
[-2.25,[0.05,0.08,0.11,0.14,0.17,0.2,0.23,0.26]]
];
const prevCenterRows = [
[0.04,[0.1,0.118,0.138,0.158,0.178,0.198,0.218,0.238,0.258,0.278,0.298,0.318,0.338,0.358,0.378,0.4]],
[-0.13,[0.085,0.105,0.125,0.145,0.165,0.185,0.205,0.225,0.245,0.265,0.285,0.305,0.325,0.345,0.365,0.39]],
[-0.30,[0.075,0.095,0.115,0.135,0.155,0.175,0.195,0.215,0.235,0.255,0.275,0.295,0.315,0.335,0.355,0.38]],
[-0.47,[0.065,0.085,0.105,0.125,0.145,0.165,0.185,0.205,0.225,0.245,0.265,0.285,0.305,0.325,0.345,0.37]],
[-0.64,[0.06,0.08,0.1,0.12,0.14,0.16,0.18,0.2,0.22,0.24,0.26,0.28,0.3,0.32,0.34,0.36]],
[-0.81,[0.065,0.085,0.105,0.125,0.145,0.165,0.185,0.205,0.225,0.245,0.265,0.285,0.305,0.325,0.345]],
[-0.98,[0.06,0.08,0.1,0.12,0.14,0.16,0.18,0.2,0.22,0.24,0.26,0.28,0.3,0.32,0.34]],
[-1.15,[0.065,0.085,0.105,0.125,0.145,0.165,0.185,0.205,0.225,0.245,0.265,0.285,0.305,0.325]],
[-1.32,[0.06,0.08,0.1,0.12,0.14,0.16,0.18,0.2,0.22,0.24,0.26,0.28,0.3,0.32]],
[-1.49,[0.065,0.085,0.105,0.125,0.145,0.165,0.185,0.205,0.225,0.245,0.265,0.285,0.305]],
[-1.66,[0.07,0.09,0.11,0.13,0.15,0.17,0.19,0.21,0.23,0.25,0.27,0.29]],
[-1.83,[0.075,0.095,0.115,0.135,0.155,0.175,0.195,0.215,0.235,0.26]]
];

// ---------- builders ----------
function fromPairs(p){ return p.map(function(a){ return {x:a[0], y:a[1]}; }); }
function fromRows(rows){ const out=[]; rows.forEach(function(r){ r[1].forEach(function(x){ out.push({x:x, y:r[0]}); }); }); return out; }
function fromCols(xs, ys){ const out=[]; xs.forEach(function(x,i){ ys[i].forEach(function(y){ out.push({x:x, y:y}); }); }); return out; }

const FONT = '"Liberation Sans", Arial, Helvetica, sans-serif';
const PT = '#8a8a8a';

function makePanel(cfg){
  const c = document.getElementById(cfg.id);
  c.width = cfg.w; c.height = cfg.h;
  c.style.left = cfg.ox + 'px'; c.style.top = cfg.oy + 'px';
  const yTitleX = cfg.L - 64.6;
  const xTitleY = cfg.B + 59.7;
  const pl = yTitleX - 16.5 - cfg.ox;
  const yW = cfg.L - cfg.ox - pl;
  const hx = xTitleY + 16.5 - cfg.B;
  const pb = cfg.oy + cfg.h - cfg.B - hx;
  const tickCommon = {display:true, drawOnChartArea:false, drawTicks:true, tickLength:4.5, color:'#333333', lineWidth:1.2};
  new Chart(c, {
    type:'scatter',
    data:{datasets:[
      {data: fromPairs(cfg.fit), showLine:true, borderColor:'#000', borderWidth:2.4, pointRadius:0, fill:false},
      {data: cfg.points, showLine:false, pointRadius:4.1, borderWidth:1.6, borderColor:PT, backgroundColor:'rgba(0,0,0,0)'}
    ]},
    options:{
      responsive:false, animation:false, events:[],
      layout:{padding:{left:pl, top:cfg.T - cfg.oy, right:cfg.ox + cfg.w - cfg.R, bottom:pb}},
      plugins:{legend:{display:false}, tooltip:{enabled:false}},
      scales:{
        x:{type:'linear', position:'bottom', min:cfg.xmin, max:cfg.xmax,
          afterBuildTicks:function(s){ s.ticks = cfg.xticks.map(function(v){ return {value:v}; }); },
          afterFit:function(s){ s.height = hx; },
          grid:tickCommon,
          border:{display:true, color:'#000', width:2},
          ticks:{color:'#4d4d4d', font:{family:FONT, size:21, lineHeight:1}, padding:3.5, autoSkip:false, maxRotation:0,
            callback:function(v){ return cfg.fmt(v); }},
          title:{display:true, text:cfg.xTitle, color:'#000', font:{family:FONT, size:33, lineHeight:1}, padding:0}
        },
        y:{type:'linear', position:'left', min:-4.3, max:2.3,
          afterBuildTicks:function(s){ s.ticks = logTicks.map(function(v){ return {value:v}; }); },
          afterFit:function(s){ s.width = yW; },
          grid:tickCommon,
          border:{display:true, color:'#000', width:2},
          ticks:{color:'#4d4d4d', font:{family:FONT, size:21, lineHeight:1}, padding:3.5, autoSkip:false,
            callback:function(v){ return String(v); }},
          title:{display:true, text:'Log on-bout duration (h)', color:'#000', font:{family:FONT, size:33, lineHeight:1}, padding:0}
        }
      }
    }
  });
}

makePanel({id:'cA', ox:0, oy:0, w:633, h:547, L:102.7, R:610, T:23.7, B:436.2, xmin:-1.75, xmax:37.8,
  xticks:tempTicks, fmt:function(v){return String(v);}, xTitle:'Ambient temperature (°C)', fit:tempFit,
  points: fromPairs(tempPairs).concat(fromRows(tempRows), fromRows(tempCoreRows), fromRows(tempCenterRows))});
makePanel({id:'cB', ox:633, oy:0, w:633, h:547, L:749.5, R:1257.3, T:26, B:437, xmin:-2.22, xmax:47.2,
  xticks:windTicks, fmt:function(v){return String(v);}, xTitle:'Wind speed (km/h)', fit:windFit,
  points: fromCols(windX, windY).concat(fromCols(windX, windYExtra))});
makePanel({id:'cC', ox:0, oy:547, w:633, h:560, L:121.7, R:606.7, T:624, B:1020, xmin:1.7, xmax:8.3,
  xticks:helperTicks, fmt:function(v){return String(v);}, xTitle:'Helper number', fit:helperFit,
  points: fromCols(helperX, helperY).concat(fromCols(helperX, helperYExtra))});
makePanel({id:'cD', ox:633, oy:547, w:633, h:560, L:749, R:1257.3, T:601.2, B:1015.5, xmin:-0.075, xmax:1.575,
  xticks:prevTicks, fmt:function(v){return v.toFixed(1);}, xTitle:'Duration of previous bout (h)', fit:prevFit,
  points: fromPairs(prevPairs).concat(fromRows(prevRows), fromRows(prevCoreRows), fromRows(prevCenterRows))});
</script>
</body></html>
